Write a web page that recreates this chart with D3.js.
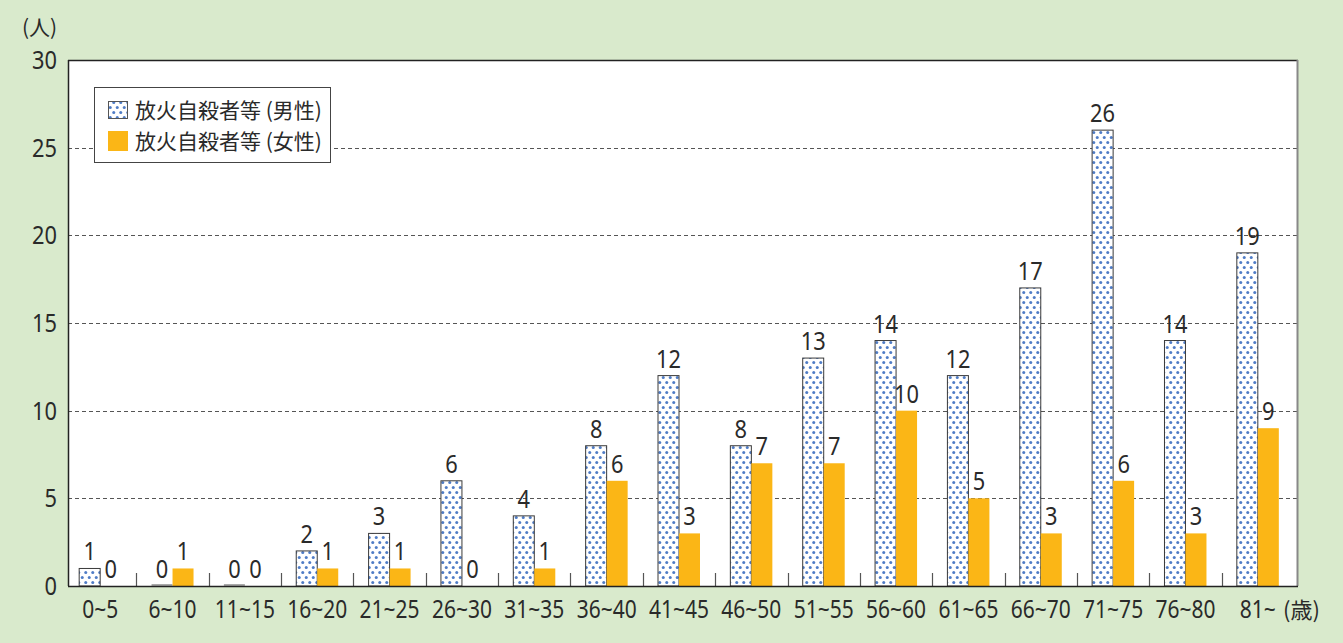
<!DOCTYPE html>
<html><head><meta charset="utf-8">
<script src="https://cdn.jsdelivr.net/npm/d3@7"></script>
<style>
html,body{margin:0;padding:0;background:#d9eacc;}
svg{display:block;}
text{font-family:"Noto Sans CJK JP","Noto Sans",sans-serif;fill:#2a2a2a;}
.num{font-family:"Noto Sans","Noto Sans CJK JP",sans-serif;font-weight:400;}
</style></head>
<body><svg id="c" width="1343" height="643"></svg>
<script>
const categories = ["0~5","6~10","11~15","16~20","21~25","26~30","31~35","36~40","41~45","46~50","51~55","56~60","61~65","66~70","71~75","76~80","81~"];
const male = [1,0,0,2,3,6,4,8,12,8,13,14,12,17,26,14,19];
const female = [0,1,0,1,1,0,1,6,3,7,7,10,5,3,6,3,9];
const yTicks = [0,5,10,15,20,25,30];
const seriesNames = ["放火自殺者等 (男性)","放火自殺者等 (女性)"];
const yUnit = "(人)";
const xUnit = "(歳)";

const svg = d3.select("#c");
const W = 1343, H = 643;
svg.append("rect").attr("width",W).attr("height",H).attr("fill","#d9eacc");

const plot = {l:68, r:1298, t:60, b:586};
const x = d3.scaleBand().domain(categories).range([64,1294]).paddingInner(0).paddingOuter(0);
const y = d3.scaleLinear().domain([0,30]).range([plot.b, plot.t]);
const bw = 21;
const SX = 0.84;

function num(g, px, py, txt, size, anchor){
  return g.append("text").attr("class","num")
    .attr("transform",`translate(${px},${py}) scale(${SX},1)`)
    .attr("text-anchor",anchor||"middle").attr("font-size",size).text(txt);
}

const defs = svg.append("defs");
const pat = defs.append("pattern").attr("id","dots").attr("patternUnits","userSpaceOnUse")
  .attr("width",7).attr("height",10);
pat.append("rect").attr("width",7).attr("height",10).attr("fill","#ffffff");
pat.append("circle").attr("cx",1.75).attr("cy",2.5).attr("r",1.5).attr("fill","#4f7cc6");
pat.append("circle").attr("cx",5.25).attr("cy",7.5).attr("r",1.5).attr("fill","#4f7cc6");

svg.append("rect").attr("x",plot.l).attr("y",plot.t).attr("width",plot.r-plot.l).attr("height",plot.b-plot.t).attr("fill","#fff");

svg.append("g").selectAll("line").data(yTicks.filter(d=>d>0 && d<30)).join("line")
  .attr("x1",plot.l).attr("x2",plot.r).attr("y1",d=>Math.round(y(d))+0.5).attr("y2",d=>Math.round(y(d))+0.5)
  .attr("stroke","#555").attr("stroke-width",1).attr("stroke-dasharray","4,3");

const bounds = categories.slice(1).map(c=>x(c));
svg.append("g").selectAll("line").data(bounds).join("line")
  .attr("x1",d=>Math.round(d)+0.5).attr("x2",d=>Math.round(d)+0.5)
  .attr("y1",plot.b-13).attr("y2",plot.b).attr("stroke","#555").attr("stroke-width",1.2);

const gM = svg.append("g");
categories.forEach((c,i)=>{
  const cx = x(c)+x.bandwidth()/2;
  const v = male[i];
  if(v>0){
    gM.append("rect").attr("x",cx-bw).attr("y",y(v)).attr("width",bw).attr("height",y(0)-y(v))
      .attr("fill","url(#dots)").attr("stroke","#3a3a3a").attr("stroke-width",1);
  } else {
    gM.append("line").attr("x1",cx-bw).attr("x2",cx).attr("y1",plot.b-1).attr("y2",plot.b-1).attr("stroke","#aaa").attr("stroke-width",2);
  }
  const fv = female[i];
  if(fv>0){
    gM.append("rect").attr("x",cx).attr("y",y(fv)).attr("width",bw).attr("height",y(0)-y(fv))
      .attr("fill","#fbb616");
  }
  num(gM, cx-bw/2, (v>0?y(v):plot.b)-8, v, 26);
  num(gM, cx+bw/2, (fv>0?y(fv):plot.b)-8, fv, 26);
});

svg.append("line").attr("x1",plot.l+0.5).attr("x2",plot.l+0.5).attr("y1",plot.t).attr("y2",plot.b).attr("stroke","#222").attr("stroke-width",1.5);
svg.append("line").attr("x1",plot.l).attr("x2",plot.r).attr("y1",plot.t+0.5).attr("y2",plot.t+0.5).attr("stroke","#222").attr("stroke-width",1.5);
svg.append("line").attr("x1",plot.r-0.5).attr("x2",plot.r-0.5).attr("y1",plot.t).attr("y2",plot.b).attr("stroke","#888").attr("stroke-width",2);
svg.append("line").attr("x1",plot.l).attr("x2",plot.r).attr("y1",plot.b+0.5).attr("y2",plot.b+0.5).attr("stroke","#222").attr("stroke-width",1.5);

const gy = svg.append("g");
yTicks.forEach(d=>num(gy, 57, y(d)+9, d, 26, "end"));
svg.append("text").attr("x",22).attr("y",35).attr("font-size",21).text(yUnit);

const gx = svg.append("g");
categories.forEach(c=>num(gx, x(c)+x.bandwidth()/2, 618, c, 25));
svg.append("text").attr("x",1283).attr("y",618).attr("font-size",22).text(xUnit);

const lg = svg.append("g");
lg.append("rect").attr("x",94.5).attr("y",87.5).attr("width",236).attr("height",75).attr("fill","#fff").attr("stroke","#444").attr("stroke-width",1);
lg.append("rect").attr("x",108.5).attr("y",101.5).attr("width",19).attr("height",17).attr("fill","url(#dots)").attr("stroke","#555").attr("stroke-width",1);
lg.append("rect").attr("x",108).attr("y",131).attr("width",20).attr("height",20).attr("fill","#fbb616");
lg.append("text").attr("x",135).attr("y",118).attr("font-size",21).text(seriesNames[0]);
lg.append("text").attr("x",135).attr("y",149).attr("font-size",21).text(seriesNames[1]);
</script></body></html>
